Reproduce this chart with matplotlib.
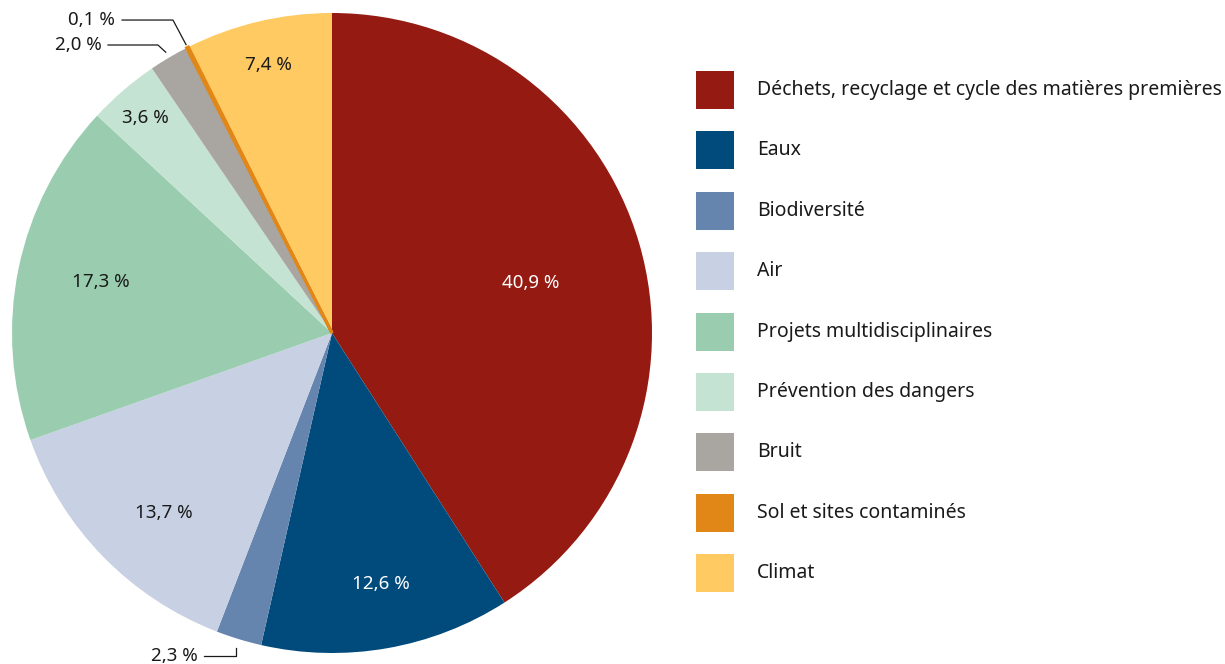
import matplotlib
matplotlib.use("Agg")
import matplotlib.pyplot as plt
from matplotlib.patches import Rectangle
import numpy as np

categories = ["Déchets, recyclage et cycle des matières premières", "Eaux", "Biodiversité", "Air",
              "Projets multidisciplinaires", "Prévention des dangers", "Bruit",
              "Sol et sites contaminés", "Climat"]
values = [40.9, 12.6, 2.3, 13.7, 17.3, 3.6, 2.0, 0.1, 7.4]
colors = ["#951A11", "#004B7C", "#6585AE", "#C8D1E3", "#9ACDAF", "#C5E3D3", "#A9A6A1", "#E08718", "#FECA61"]
text_colors = ["white", "white", "#1a1a1a", "#1a1a1a", "#1a1a1a", "#1a1a1a", "#1a1a1a", "#1a1a1a", "#1a1a1a"]
label_dist = [0.64, 0.8, None, 0.77, 0.74, 0.89, None, None, 0.86]
label_angle_shift = [-2.2, 1.0, 0, 2.8, -0.9, 0.3, 0, 0, 0]
edge_widths = [0, 0, 0, 0, 0, 0, 0, 2.2, 0]

plt.rcParams['font.family'] = ['Noto Sans', 'DejaVu Sans']

W, H = 1225, 664
fig = plt.figure(figsize=(W / 100, H / 100), dpi=100)

cx, cy, R = 332, 333, 320
ax = fig.add_axes([(cx - R) / W, (H - cy - R) / H, 2 * R / W, 2 * R / H])
wedges, _ = ax.pie(values, colors=colors, startangle=90, counterclock=False)
for w, c, lw in zip(wedges, colors, edge_widths):
    w.set_edgecolor(c)
    w.set_linewidth(lw)
wedges[7].set_zorder(5)
ax.set_xlim(-1, 1)
ax.set_ylim(-1, 1)
ax.set_aspect("equal")
ax.axis("off")


def fmt(v):
    return f"{v:.1f}".replace(".", ",") + " %"


# inside labels
for w, v, d, sh, tc in zip(wedges, values, label_dist, label_angle_shift, text_colors):
    if d is None:
        continue
    ang = np.deg2rad((w.theta1 + w.theta2) / 2 + sh)
    ax.text(d * np.cos(ang), d * np.sin(ang), fmt(v), ha="center", va="center",
            fontsize=13.5, color=tc, zorder=6)

# outside labels with leader lines
outside = {2: dict(r=1.03, elbow_y=-1.009, end_x=-0.40, text_x=-0.42, vertical=True),
           6: dict(r=1.02, elbow=(-0.544, 0.90), end_x=-0.70, text_x=-0.72),
           7: dict(r=1.01, elbow=(-0.497, 0.978), end_x=-0.656, text_x=-0.678)}
for i, o in outside.items():
    w = wedges[i]
    ang = np.deg2rad((w.theta1 + w.theta2) / 2)
    px, py = o["r"] * np.cos(ang), o["r"] * np.sin(ang)
    if o.get("vertical"):
        xs = [px, px, o["end_x"]]
        ys = [py, o["elbow_y"], o["elbow_y"]]
        ty = o["elbow_y"]
    else:
        ex, ey = o["elbow"]
        xs = [px, ex, o["end_x"]]
        ys = [py, ey, ey]
        ty = ey
    ax.plot(xs, ys, color="#1a1a1a", lw=0.9, clip_on=False)
    ax.text(o["text_x"], ty, fmt(values[i]), ha="right", va="center", fontsize=13.5,
            color="#1a1a1a", clip_on=False)

# legend drawn in pixel coordinates
lax = fig.add_axes([0, 0, 1, 1])
lax.set_xlim(0, W)
lax.set_ylim(H, 0)
lax.axis("off")
lax.patch.set_alpha(0)
y0, dy, box = 90, 60.4, 38
for k, (cat, col) in enumerate(zip(categories, colors)):
    yc = y0 + k * dy
    lax.add_patch(Rectangle((696, yc - box / 2), box, box, facecolor=col, edgecolor="none"))
    lax.text(757, yc, cat, ha="left", va="center", fontsize=14, color="#1a1a1a")

fig.savefig("out.png", dpi=100)
